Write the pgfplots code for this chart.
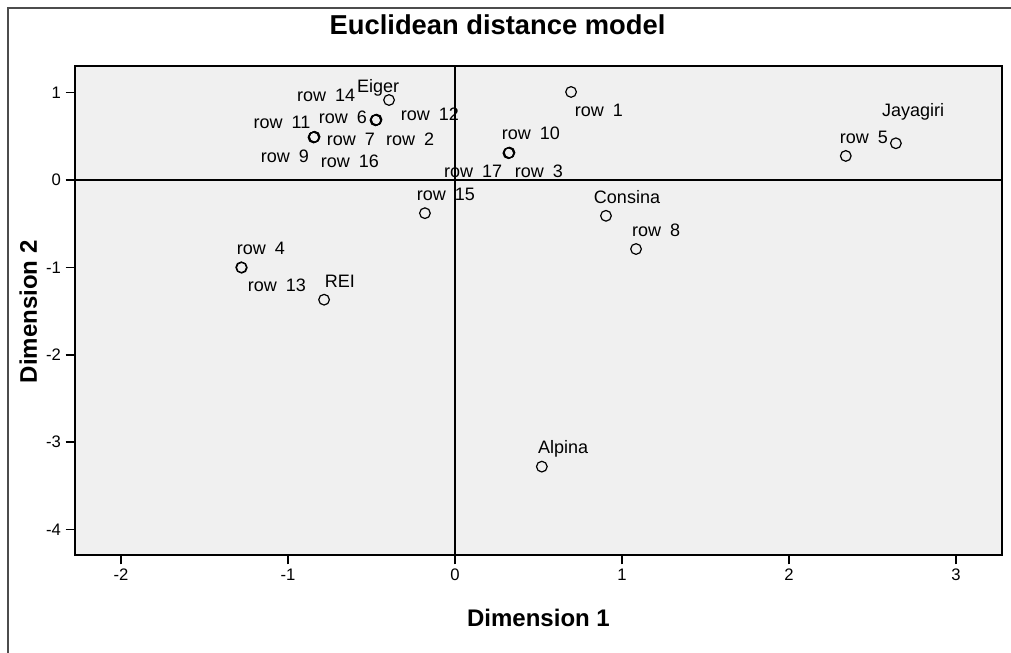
\documentclass[border=0pt]{standalone}
\usepackage{pgfplots}
\pgfplotsset{compat=1.18}
\usepackage{pgfplotstable}
\usepackage{fontspec}
\setmainfont{Liberation Sans}
\definecolor{plotbg}{RGB}{240,240,240}
\newcommand\rw[1]{row\hspace{0.5em}#1}

% stimulus coordinates (x,y) and label centres (lx,ly)
\pgfplotstableread[col sep=comma]{
lab,x,y,lx,ly
Eiger,-0.395,0.915,-0.461,1.053
Jayagiri,2.640,0.420,2.743,0.778
Consina,0.904,-0.410,1.030,-0.195
REI,-0.784,-1.370,-0.689,-1.156
Alpina,0.520,-3.280,0.647,-3.078
\rw{1},0.695,1.007,0.862,0.801
\rw{2},-0.470,0.690,-0.269,0.469
\rw{3},0.326,0.313,0.503,0.103
\rw{4},-1.280,-1.000,-1.162,-0.778
\rw{5},2.340,0.275,2.449,0.492
\rw{6},-0.473,0.686,-0.671,0.721
\rw{7},-0.841,0.494,-0.623,0.469
\rw{8},1.084,-0.790,1.204,-0.572
\rw{9},-0.844,0.490,-1.018,0.275
\rw{10},0.323,0.310,0.455,0.538
\rw{11},-0.847,0.487,-1.036,0.664
\rw{12},-0.476,0.683,-0.150,0.755
\rw{13},-1.277,-1.003,-1.066,-1.201
\rw{14},-0.473,0.686,-0.772,0.973
\rw{15},-0.180,-0.380,-0.054,-0.160
\rw{16},-0.844,0.490,-0.629,0.217
\rw{17},0.320,0.307,0.108,0.103
}\mdsdata

\begin{document}
\begin{tikzpicture}
\path[use as bounding box] (-56.25pt,-73.5pt) rectangle (702pt,416.25pt);
% outer frame (only top and left edges visible)
\draw[line width=1.5pt, black!70] (-50.25pt,-80pt) -- (-50.25pt,410.25pt) -- (710pt,410.25pt);
\begin{axis}[
    scale only axis,
    width=695.25pt, height=366.75pt,
    xmin=-2.2754, xmax=3.2754,
    ymin=-4.291, ymax=1.304,
    xtick={-2,-1,0,1,2,3},
    ytick={-4,-3,-2,-1,0,1},
    xtick pos=bottom, ytick pos=left,
    tick align=outside,
    major tick length=7pt,
    tick style={black, line width=1.2pt},
    axis line style={black, line width=1.2pt},
    axis background/.style={fill=plotbg},
    /pgf/number format/assume math mode=true,
    ticklabel style={font=\fontsize{12.5}{14}\selectfont},
    extra x ticks={0}, extra y ticks={0},
    extra x tick labels={}, extra y tick labels={},
    extra tick style={grid=major, major grid style={black, line width=1.2pt}, major tick length=0pt},
    title={Euclidean distance model},
    title style={at={(axis description cs:0.4558,1.049)}, anchor=base,
                 font=\bfseries\fontsize{20.5}{24}\selectfont},
    xlabel={Dimension 1},
    xlabel style={at={(axis description cs:0.5,-0.147)}, anchor=base,
                  font=\bfseries\fontsize{18}{21}\selectfont},
    ylabel={Dimension 2},
    ylabel style={at={(axis description cs:-0.041,0.497)}, anchor=base,
                  font=\bfseries\fontsize{18}{21}\selectfont},
]
\addplot[only marks, mark=o, mark size=4pt, black, mark options={line width=0.9pt}]
    table[x=x, y=y] {\mdsdata};
\addplot[draw=none, mark=none, point meta=explicit symbolic, nodes near coords,
    nodes near coords style={anchor=center, inner sep=0pt, black,
                             font=\fontsize{13.5}{15}\selectfont}]
    table[x=lx, y=ly, meta=lab] {\mdsdata};
\end{axis}
\end{tikzpicture}
\end{document}
